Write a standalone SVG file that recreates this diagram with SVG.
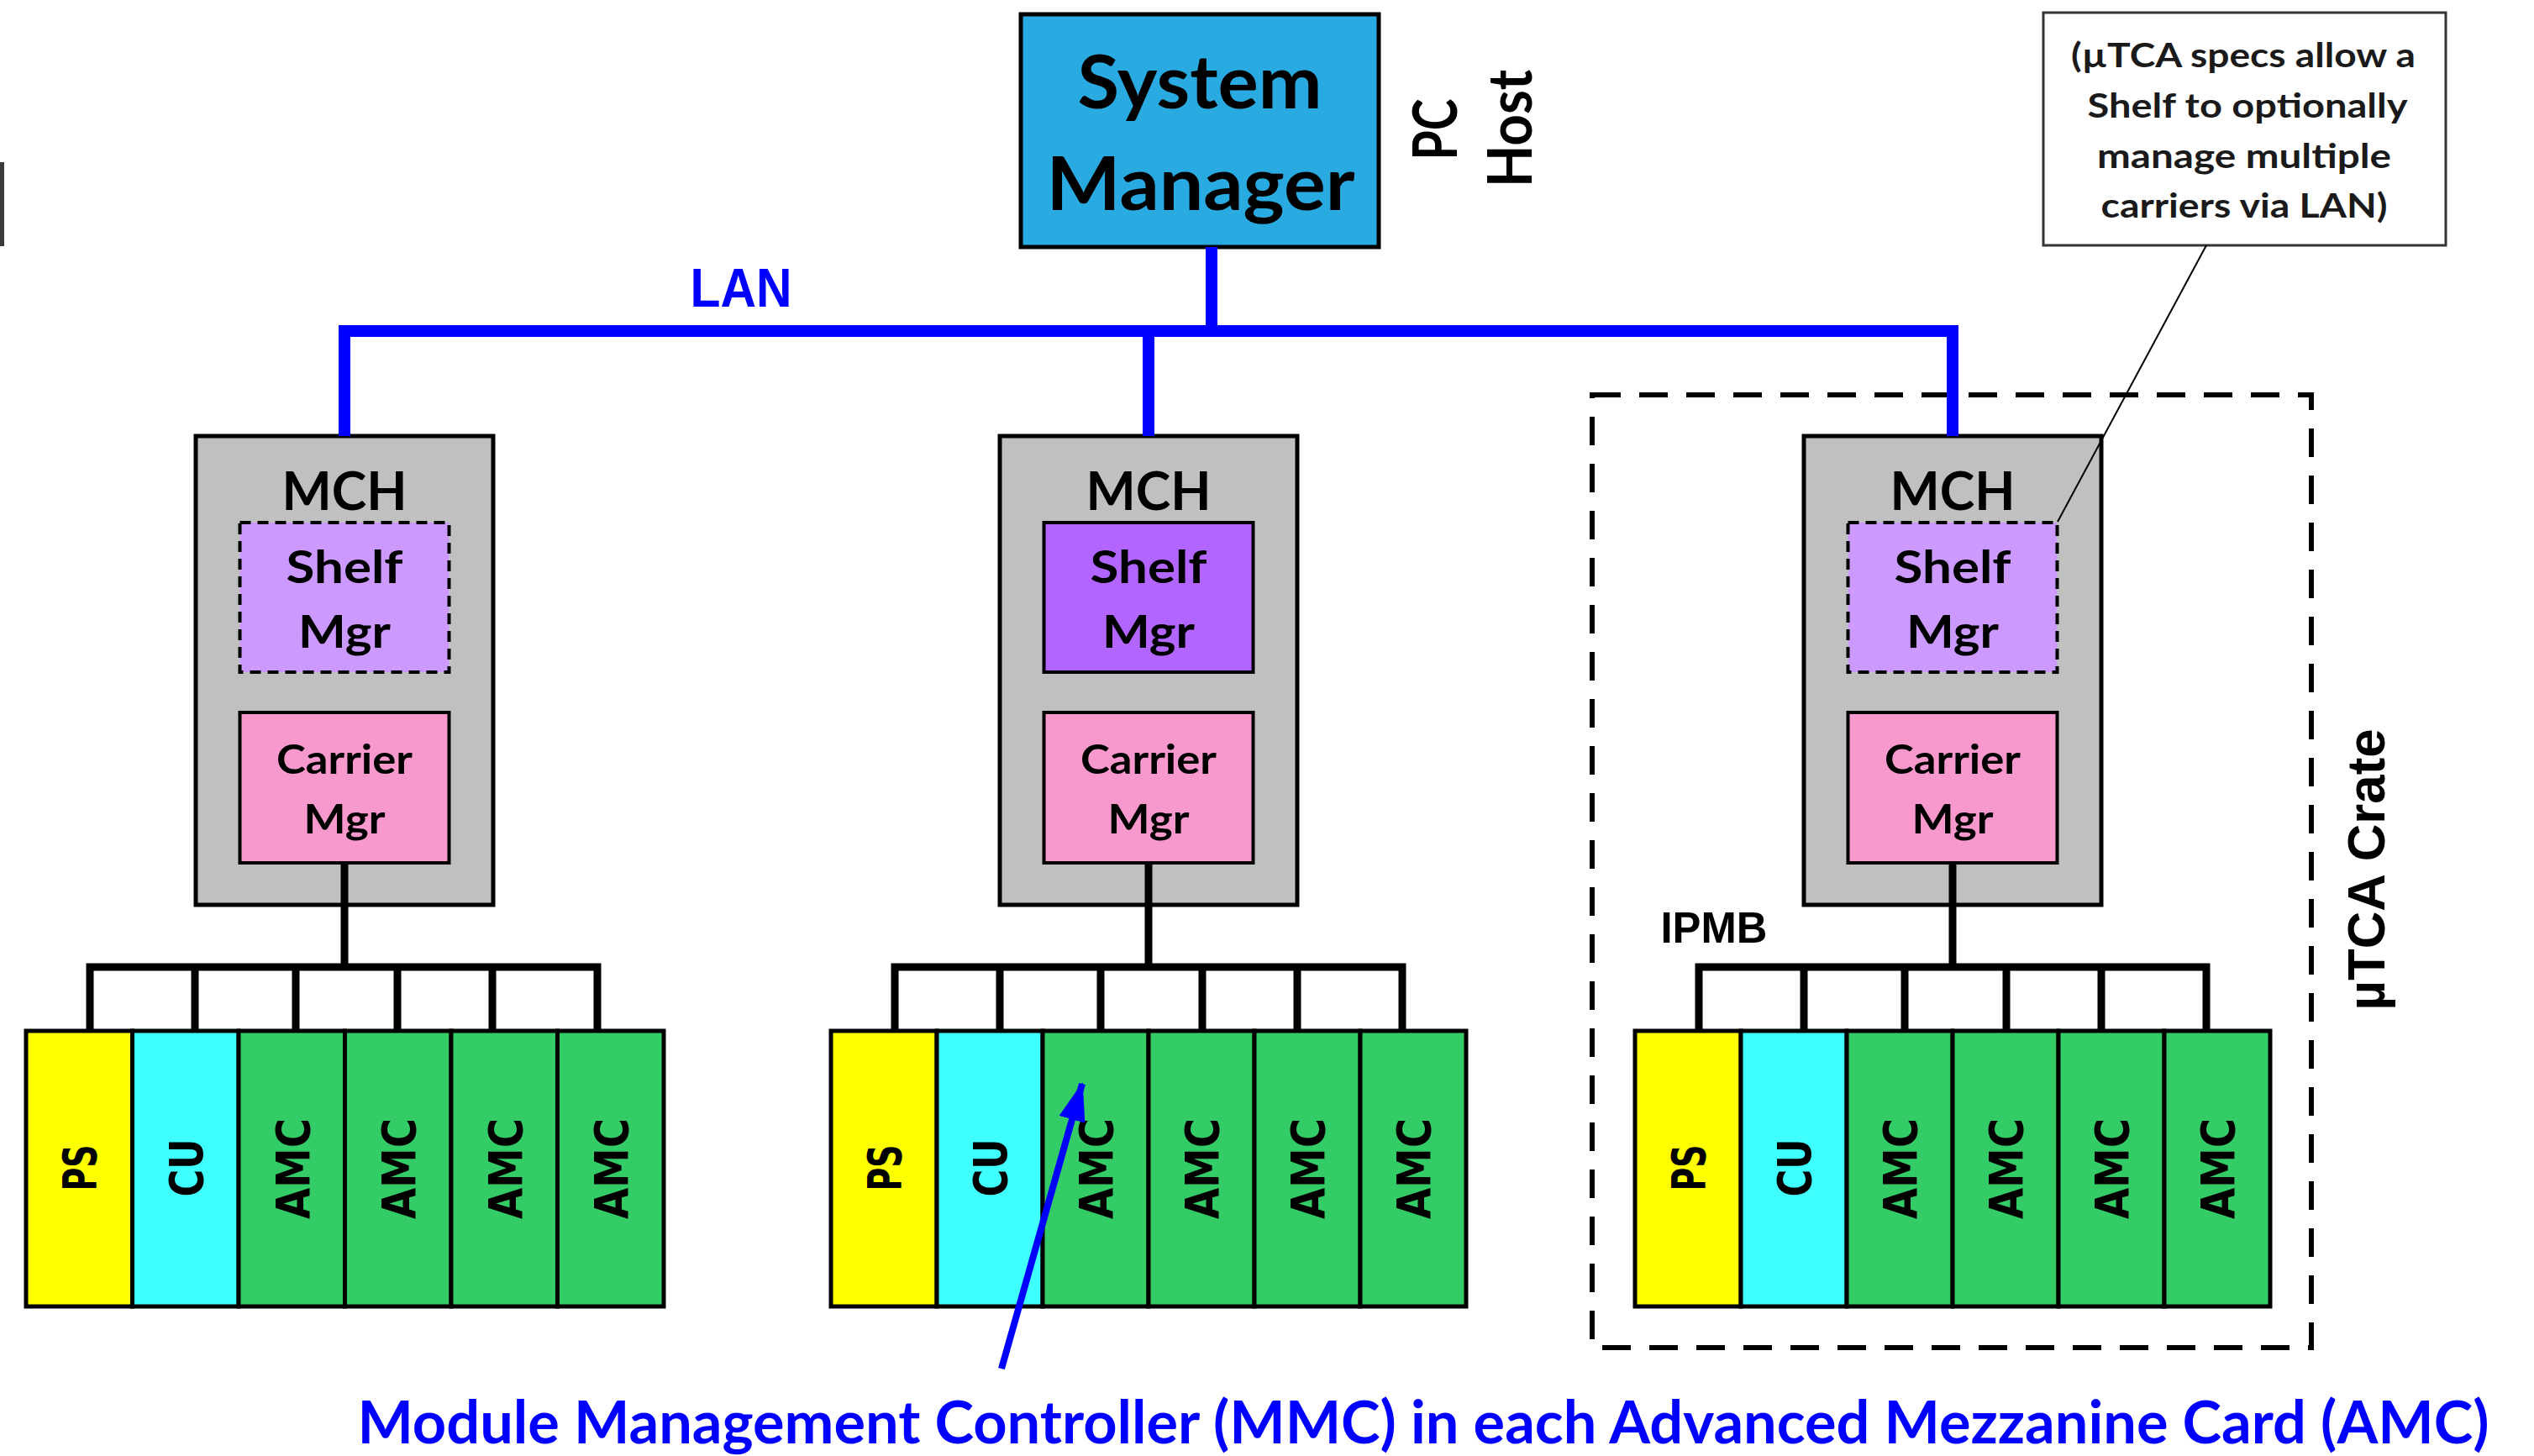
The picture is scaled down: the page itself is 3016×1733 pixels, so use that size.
<svg xmlns="http://www.w3.org/2000/svg" width="3016" height="1733" viewBox="0 0 3016 1733">
<defs>
<style>
.lan{stroke:#0000ff;stroke-width:14;fill:none;stroke-linejoin:miter;stroke-linecap:butt}
.bus{stroke:#000;stroke-width:9;fill:none;stroke-linejoin:miter}
.mch{fill:#c0c0c0;stroke:#000;stroke-width:5}
.shelf{fill:#cc99ff;stroke:#000;stroke-width:4;stroke-dasharray:13 8}
.shelfs{fill:#b266ff;stroke:#000;stroke-width:4}
.carrier{fill:#f799cc;stroke:#000;stroke-width:4}
.ps{fill:#ffff00;stroke:#000;stroke-width:5}
.cu{fill:#40ffff;stroke:#000;stroke-width:5}
.amc{fill:#33cc66;stroke:#000;stroke-width:5}
.c{font-family:Lato,"Liberation Sans",Arial,sans-serif;font-weight:700;text-anchor:middle;fill:#000}
.a{font-family:"Liberation Sans",Arial,sans-serif;font-weight:700;text-anchor:middle;fill:#000}
.v{font-family:"DejaVu Sans",Verdana,sans-serif;font-weight:700;text-anchor:middle;font-size:56px;fill:#000}
.n{fill:#1a1a1a}
.blue{fill:#0000ff}
</style>
<marker id="ah" markerUnits="userSpaceOnUse" markerWidth="46" markerHeight="34" refX="44" refY="17" orient="auto">
<path d="M0,1 L46,17 L0,33 z" fill="#0000ff"/>
</marker>
</defs>
<rect x="0" y="0" width="3016" height="1733" fill="#ffffff"/>
<rect x="0" y="193" width="5" height="100" fill="#3a3a3a"/>

<g id="system-manager">
<rect x="1215" y="17" width="426" height="277" fill="#29abe2" stroke="#000" stroke-width="5"/>
<text class="c" x="1428" y="129" font-size="88" textLength="291" lengthAdjust="spacingAndGlyphs">System</text>
<text class="c" x="1429" y="250" font-size="88" textLength="367" lengthAdjust="spacingAndGlyphs">Manager</text>
</g>
<g id="pc-host">
<text class="c" transform="translate(1734,154) rotate(-90)" font-size="72" textLength="73" lengthAdjust="spacingAndGlyphs">PC</text>
<text class="c" transform="translate(1823,153) rotate(-90)" font-size="72" textLength="140" lengthAdjust="spacingAndGlyphs">Host</text>
</g>
<g id="lan-label">
<text class="a blue" x="882" y="365" font-size="65" textLength="121" lengthAdjust="spacingAndGlyphs">LAN</text>
</g>

<g id="note">
<rect x="2432" y="15" width="479" height="277" fill="#fff" stroke="#333" stroke-width="3"/>
<text class="c n" x="2670" y="80" font-size="40" textLength="410" lengthAdjust="spacingAndGlyphs">(µTCA specs allow a</text>
<text class="c n" x="2675" y="140" font-size="40" textLength="381" lengthAdjust="spacingAndGlyphs">Shelf to optionally</text>
<text class="c n" x="2671" y="200" font-size="40" textLength="350" lengthAdjust="spacingAndGlyphs">manage multiple</text>
<text class="c n" x="2671" y="259" font-size="40" textLength="341" lengthAdjust="spacingAndGlyphs">carriers via LAN)</text>
</g>

<g id="crate-frame">
<rect x="1895" y="470" width="856" height="1134" fill="none" stroke="#000" stroke-width="6" stroke-dasharray="34 22"/>
<text class="a" transform="translate(2838,1035) rotate(-90)" font-size="63" textLength="335" lengthAdjust="spacingAndGlyphs">µTCA Crate</text>
<text class="a" x="2040" y="1122" font-size="52" textLength="127" lengthAdjust="spacingAndGlyphs">IPMB</text>
</g>

<g id="mch-1">
<rect class="mch" x="233" y="519" width="354" height="558"/>
<text class="c" x="410" y="607" font-size="64" textLength="149" lengthAdjust="spacingAndGlyphs">MCH</text>
<rect class="shelf" x="285.5" y="622" width="249" height="178"/>
<text class="c" x="410" y="694" font-size="54" textLength="139" lengthAdjust="spacingAndGlyphs">Shelf</text>
<text class="c" x="410" y="771" font-size="54" textLength="110" lengthAdjust="spacingAndGlyphs">Mgr</text>
<rect class="carrier" x="285.5" y="848" width="249" height="179"/>
<text class="c" x="410" y="921" font-size="47" textLength="162" lengthAdjust="spacingAndGlyphs">Carrier</text>
<text class="c" x="410" y="992" font-size="47" textLength="97" lengthAdjust="spacingAndGlyphs">Mgr</text>
</g>
<g id="mch-2">
<rect class="mch" x="1190" y="519" width="354" height="558"/>
<text class="c" x="1367" y="607" font-size="64" textLength="149" lengthAdjust="spacingAndGlyphs">MCH</text>
<rect class="shelfs" x="1242.5" y="622" width="249" height="178"/>
<text class="c" x="1367" y="694" font-size="54" textLength="139" lengthAdjust="spacingAndGlyphs">Shelf</text>
<text class="c" x="1367" y="771" font-size="54" textLength="110" lengthAdjust="spacingAndGlyphs">Mgr</text>
<rect class="carrier" x="1242.5" y="848" width="249" height="179"/>
<text class="c" x="1367" y="921" font-size="47" textLength="162" lengthAdjust="spacingAndGlyphs">Carrier</text>
<text class="c" x="1367" y="992" font-size="47" textLength="97" lengthAdjust="spacingAndGlyphs">Mgr</text>
</g>
<g id="mch-3">
<rect class="mch" x="2147" y="519" width="354" height="558"/>
<text class="c" x="2324" y="607" font-size="64" textLength="149" lengthAdjust="spacingAndGlyphs">MCH</text>
<rect class="shelf" x="2199.5" y="622" width="249" height="178"/>
<text class="c" x="2324" y="694" font-size="54" textLength="139" lengthAdjust="spacingAndGlyphs">Shelf</text>
<text class="c" x="2324" y="771" font-size="54" textLength="110" lengthAdjust="spacingAndGlyphs">Mgr</text>
<rect class="carrier" x="2199.5" y="848" width="249" height="179"/>
<text class="c" x="2324" y="921" font-size="47" textLength="162" lengthAdjust="spacingAndGlyphs">Carrier</text>
<text class="c" x="2324" y="992" font-size="47" textLength="97" lengthAdjust="spacingAndGlyphs">Mgr</text>
</g>

<g id="cards-1">
<rect class="ps" x="31" y="1227" width="126.5" height="328"/>
<rect class="cu" x="157.5" y="1227" width="126.5" height="328"/>
<rect class="amc" x="284" y="1227" width="126.5" height="328"/>
<rect class="amc" x="410.5" y="1227" width="126.5" height="328"/>
<rect class="amc" x="537" y="1227" width="126.5" height="328"/>
<rect class="amc" x="663.5" y="1227" width="126.5" height="328"/>
<text class="v" transform="translate(114,1390) rotate(-90)" textLength="55" lengthAdjust="spacingAndGlyphs">PS</text>
<text class="v" transform="translate(241,1390) rotate(-90)" textLength="69" lengthAdjust="spacingAndGlyphs">CU</text>
<text class="v" transform="translate(368,1391) rotate(-90)" textLength="120" lengthAdjust="spacingAndGlyphs">AMC</text>
<text class="v" transform="translate(494,1391) rotate(-90)" textLength="120" lengthAdjust="spacingAndGlyphs">AMC</text>
<text class="v" transform="translate(621,1391) rotate(-90)" textLength="120" lengthAdjust="spacingAndGlyphs">AMC</text>
<text class="v" transform="translate(747,1391) rotate(-90)" textLength="120" lengthAdjust="spacingAndGlyphs">AMC</text>
</g>
<g id="cards-2">
<rect class="ps" x="989" y="1227" width="126" height="328"/>
<rect class="cu" x="1115" y="1227" width="126" height="328"/>
<rect class="amc" x="1241" y="1227" width="126" height="328"/>
<rect class="amc" x="1367" y="1227" width="126" height="328"/>
<rect class="amc" x="1493" y="1227" width="126" height="328"/>
<rect class="amc" x="1619" y="1227" width="126" height="328"/>
<text class="v" transform="translate(1072,1390) rotate(-90)" textLength="55" lengthAdjust="spacingAndGlyphs">PS</text>
<text class="v" transform="translate(1198,1390) rotate(-90)" textLength="69" lengthAdjust="spacingAndGlyphs">CU</text>
<text class="v" transform="translate(1324,1391) rotate(-90)" textLength="120" lengthAdjust="spacingAndGlyphs">AMC</text>
<text class="v" transform="translate(1450,1391) rotate(-90)" textLength="120" lengthAdjust="spacingAndGlyphs">AMC</text>
<text class="v" transform="translate(1576,1391) rotate(-90)" textLength="120" lengthAdjust="spacingAndGlyphs">AMC</text>
<text class="v" transform="translate(1702,1391) rotate(-90)" textLength="120" lengthAdjust="spacingAndGlyphs">AMC</text>
</g>
<g id="cards-3">
<rect class="ps" x="1946" y="1227" width="126" height="328"/>
<rect class="cu" x="2072" y="1227" width="126" height="328"/>
<rect class="amc" x="2198" y="1227" width="126" height="328"/>
<rect class="amc" x="2324" y="1227" width="126" height="328"/>
<rect class="amc" x="2450" y="1227" width="126" height="328"/>
<rect class="amc" x="2576" y="1227" width="126" height="328"/>
<text class="v" transform="translate(2029,1390) rotate(-90)" textLength="55" lengthAdjust="spacingAndGlyphs">PS</text>
<text class="v" transform="translate(2155,1390) rotate(-90)" textLength="69" lengthAdjust="spacingAndGlyphs">CU</text>
<text class="v" transform="translate(2281,1391) rotate(-90)" textLength="120" lengthAdjust="spacingAndGlyphs">AMC</text>
<text class="v" transform="translate(2407,1391) rotate(-90)" textLength="120" lengthAdjust="spacingAndGlyphs">AMC</text>
<text class="v" transform="translate(2533,1391) rotate(-90)" textLength="120" lengthAdjust="spacingAndGlyphs">AMC</text>
<text class="v" transform="translate(2659,1391) rotate(-90)" textLength="120" lengthAdjust="spacingAndGlyphs">AMC</text>
</g>

<g id="caption">
<text class="c blue" x="1694" y="1718" font-size="70" textLength="2537" lengthAdjust="spacingAndGlyphs">Module Management Controller (MMC) in each Advanced Mezzanine Card (AMC)</text>
</g>

<g id="connectors">
<path class="lan" d="M1442,294 V394 M410,519 V394 H2324 V519 M1367,394 V519"/>
<path class="bus" d="M410,1027 V1151 M107,1227 V1151 H711 V1227 M232,1151 V1227 M352,1151 V1227 M473,1151 V1227 M586,1151 V1227"/>
<path class="bus" d="M1367,1027 V1151 M1065,1227 V1151 H1669 V1227 M1190,1151 V1227 M1310,1151 V1227 M1431,1151 V1227 M1544,1151 V1227"/>
<path class="bus" d="M2324,1027 V1151 M2022,1227 V1151 H2626 V1227 M2147,1151 V1227 M2267,1151 V1227 M2388,1151 V1227 M2501,1151 V1227"/>
<line x1="2626" y1="292" x2="2449" y2="621" stroke="#000" stroke-width="2"/>
<line x1="1192" y1="1629" x2="1288" y2="1290" stroke="#0000ff" stroke-width="8" marker-end="url(#ah)"/>
</g>
</svg>
